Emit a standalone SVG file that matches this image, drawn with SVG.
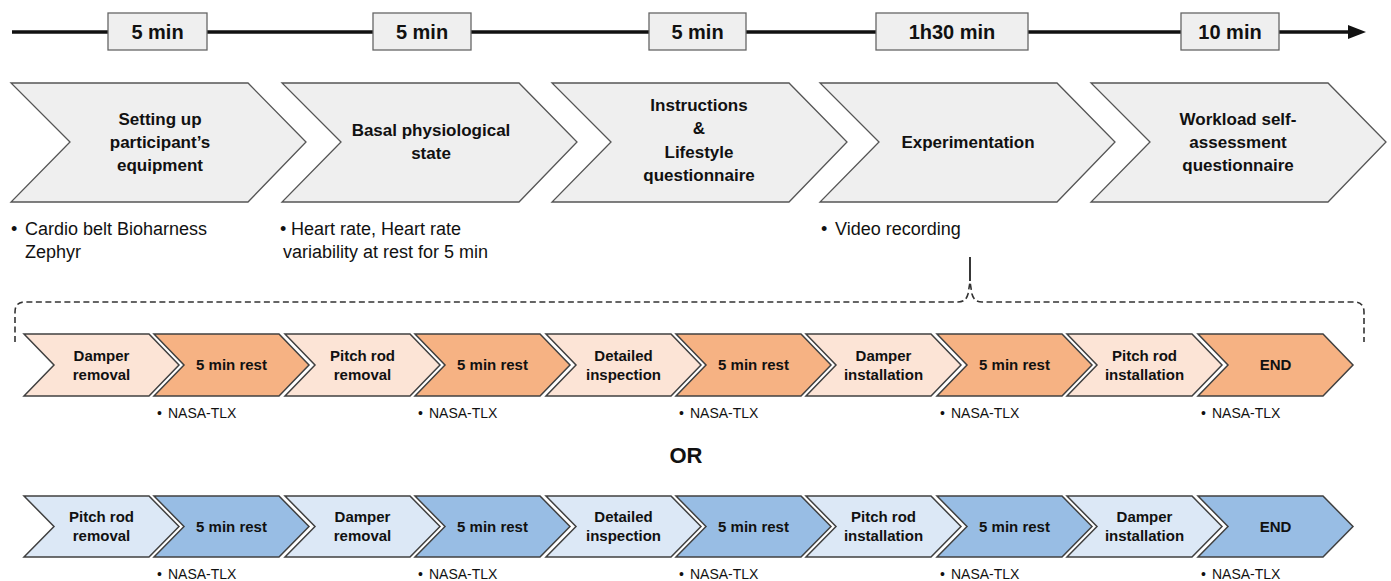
<svg xmlns="http://www.w3.org/2000/svg" width="1391" height="581" viewBox="0 0 1391 581">
<style>
text{font-family:"Liberation Sans",Arial,sans-serif;fill:#111}
.big{fill:#efefef;stroke:#555;stroke-width:1.3}
.tbox{fill:#efefef;stroke:#666;stroke-width:1.3}
.tt{font-size:20px;font-weight:bold;text-anchor:middle}
.bt{font-size:17px;font-weight:bold;text-anchor:middle}
.bl{font-size:18px}
.st{font-size:15px;font-weight:bold;text-anchor:middle}
.nt{font-size:14px}
.ol{fill:#fce4d6;stroke:#404040;stroke-width:1.5}
.od{fill:#f6b283;stroke:#404040;stroke-width:1.5}
.bll{fill:#dce8f6;stroke:#404040;stroke-width:1.5}
.bd{fill:#98bde4;stroke:#404040;stroke-width:1.5}
.dash{fill:none;stroke:#333;stroke-width:1.6;stroke-dasharray:6 3.5}
</style>

<g id="timeline">
<line x1="12" y1="32" x2="1350" y2="32" stroke="#111" stroke-width="3.5"/>
<polygon points="1366,32 1348,25 1348,39" fill="#111"/>
<rect class="tbox" x="108" y="13" width="99" height="37"/><text class="tt" x="157.5" y="39">5 min</text>
<rect class="tbox" x="373" y="13" width="98" height="37"/><text class="tt" x="422" y="39">5 min</text>
<rect class="tbox" x="649" y="13" width="97" height="37"/><text class="tt" x="697.5" y="39">5 min</text>
<rect class="tbox" x="876" y="13" width="152" height="37"/><text class="tt" x="952" y="39">1h30 min</text>
<rect class="tbox" x="1181" y="13" width="98" height="37"/><text class="tt" x="1230" y="39">10 min</text>
</g>

<g id="phase1">
<polygon class="big" points="11,83 248,83 306,142 248,202 11,202 70,142"/>
<text class="bt" x="160" y="125">Setting up</text>
<text class="bt" x="160" y="148">participant’s</text>
<text class="bt" x="160" y="171">equipment</text>
<text class="bl" x="11" y="235">•</text><text class="bl" x="25" y="235">Cardio belt Bioharness</text>
<text class="bl" x="25" y="258">Zephyr</text>
</g>
<g id="phase2">
<polygon class="big" points="282,83 519,83 577,142 519,202 282,202 341,142"/>
<text class="bt" x="431" y="136">Basal physiological</text>
<text class="bt" x="431" y="159">state</text>
<text class="bl" x="280" y="235">•</text><text class="bl" x="291" y="235">Heart rate, Heart rate</text>
<text class="bl" x="283" y="258">variability at rest for 5 min</text>
</g>
<g id="phase3">
<polygon class="big" points="552,83 789,83 847,142 789,202 552,202 611,142"/>
<text class="bt" x="699" y="111">Instructions</text>
<text class="bt" x="699" y="134">&amp;</text>
<text class="bt" x="699" y="158">Lifestyle</text>
<text class="bt" x="699" y="181">questionnaire</text>
</g>
<g id="phase4">
<polygon class="big" points="820,83 1057,83 1115,142 1057,202 820,202 879,142"/>
<text class="bt" x="968" y="148">Experimentation</text>
<text class="bl" x="821" y="235">•</text><text class="bl" x="835" y="235">Video recording</text>
</g>
<g id="phase5">
<polygon class="big" points="1091,83 1328,83 1386,142 1328,202 1091,202 1150,142"/>
<text class="bt" x="1238" y="125">Workload self-</text>
<text class="bt" x="1238" y="148">assessment</text>
<text class="bt" x="1238" y="171">questionnaire</text>
</g>

<g id="connectors">
<line x1="970" y1="257" x2="970" y2="281" stroke="#222" stroke-width="1.8"/>
<path class="dash" d="M15,342 L15,312 Q15,302 25,302 L958,302 Q966,302 968,294 L970,282 L972,294 Q974,302 982,302 L1354,302 Q1364,302 1364,312 L1364,342"/>
</g>

<g id="row1">
<g id="r1n1"><polygon class="ol" points="24,334 149,334 179,365 149,396 24,396 54,365"/><text class="st" x="101.5" y="360.5">Damper</text><text class="st" x="101.5" y="379.5">removal</text></g>
<g id="r1n2"><polygon class="od" points="154,334 279,334 309,365 279,396 154,396 184,365"/><text class="st" x="231.5" y="370">5 min rest</text><text class="nt" x="157" y="418">•</text><text class="nt" x="168" y="418">NASA-TLX</text></g>
<g id="r1n3"><polygon class="ol" points="285,334 410,334 440,365 410,396 285,396 315,365"/><text class="st" x="362.5" y="360.5">Pitch rod</text><text class="st" x="362.5" y="379.5">removal</text></g>
<g id="r1n4"><polygon class="od" points="415,334 540,334 570,365 540,396 415,396 445,365"/><text class="st" x="492.5" y="370">5 min rest</text><text class="nt" x="418" y="418">•</text><text class="nt" x="429" y="418">NASA-TLX</text></g>
<g id="r1n5"><polygon class="ol" points="546,334 671,334 701,365 671,396 546,396 576,365"/><text class="st" x="623.5" y="360.5">Detailed</text><text class="st" x="623.5" y="379.5">inspection</text></g>
<g id="r1n6"><polygon class="od" points="676,334 801,334 831,365 801,396 676,396 706,365"/><text class="st" x="753.5" y="370">5 min rest</text><text class="nt" x="679" y="418">•</text><text class="nt" x="690" y="418">NASA-TLX</text></g>
<g id="r1n7"><polygon class="ol" points="806,334 931,334 961,365 931,396 806,396 836,365"/><text class="st" x="883.5" y="360.5">Damper</text><text class="st" x="883.5" y="379.5">installation</text></g>
<g id="r1n8"><polygon class="od" points="937,334 1062,334 1092,365 1062,396 937,396 967,365"/><text class="st" x="1014.5" y="370">5 min rest</text><text class="nt" x="940" y="418">•</text><text class="nt" x="951" y="418">NASA-TLX</text></g>
<g id="r1n9"><polygon class="ol" points="1067,334 1192,334 1222,365 1192,396 1067,396 1097,365"/><text class="st" x="1144.5" y="360.5">Pitch rod</text><text class="st" x="1144.5" y="379.5">installation</text></g>
<g id="r1n10"><polygon class="od" points="1198,334 1323,334 1353,365 1323,396 1198,396 1228,365"/><text class="st" x="1275.5" y="370">END</text><text class="nt" x="1201" y="418">•</text><text class="nt" x="1212" y="418">NASA-TLX</text></g>
</g>

<g id="or"><text x="686" y="463" style="font-size:22px;font-weight:bold;text-anchor:middle">OR</text></g>

<g id="row2">
<g id="r2n1"><polygon class="bll" points="24,496 149,496 179,526.5 149,557 24,557 54,526.5"/><text class="st" x="101.5" y="522">Pitch rod</text><text class="st" x="101.5" y="541">removal</text></g>
<g id="r2n2"><polygon class="bd" points="154,496 279,496 309,526.5 279,557 154,557 184,526.5"/><text class="st" x="231.5" y="531.5">5 min rest</text><text class="nt" x="157" y="579">•</text><text class="nt" x="168" y="579">NASA-TLX</text></g>
<g id="r2n3"><polygon class="bll" points="285,496 410,496 440,526.5 410,557 285,557 315,526.5"/><text class="st" x="362.5" y="522">Damper</text><text class="st" x="362.5" y="541">removal</text></g>
<g id="r2n4"><polygon class="bd" points="415,496 540,496 570,526.5 540,557 415,557 445,526.5"/><text class="st" x="492.5" y="531.5">5 min rest</text><text class="nt" x="418" y="579">•</text><text class="nt" x="429" y="579">NASA-TLX</text></g>
<g id="r2n5"><polygon class="bll" points="546,496 671,496 701,526.5 671,557 546,557 576,526.5"/><text class="st" x="623.5" y="522">Detailed</text><text class="st" x="623.5" y="541">inspection</text></g>
<g id="r2n6"><polygon class="bd" points="676,496 801,496 831,526.5 801,557 676,557 706,526.5"/><text class="st" x="753.5" y="531.5">5 min rest</text><text class="nt" x="679" y="579">•</text><text class="nt" x="690" y="579">NASA-TLX</text></g>
<g id="r2n7"><polygon class="bll" points="806,496 931,496 961,526.5 931,557 806,557 836,526.5"/><text class="st" x="883.5" y="522">Pitch rod</text><text class="st" x="883.5" y="541">installation</text></g>
<g id="r2n8"><polygon class="bd" points="937,496 1062,496 1092,526.5 1062,557 937,557 967,526.5"/><text class="st" x="1014.5" y="531.5">5 min rest</text><text class="nt" x="940" y="579">•</text><text class="nt" x="951" y="579">NASA-TLX</text></g>
<g id="r2n9"><polygon class="bll" points="1067,496 1192,496 1222,526.5 1192,557 1067,557 1097,526.5"/><text class="st" x="1144.5" y="522">Damper</text><text class="st" x="1144.5" y="541">installation</text></g>
<g id="r2n10"><polygon class="bd" points="1198,496 1323,496 1353,526.5 1323,557 1198,557 1228,526.5"/><text class="st" x="1275.5" y="531.5">END</text><text class="nt" x="1201" y="579">•</text><text class="nt" x="1212" y="579">NASA-TLX</text></g>
</g>
</svg>
